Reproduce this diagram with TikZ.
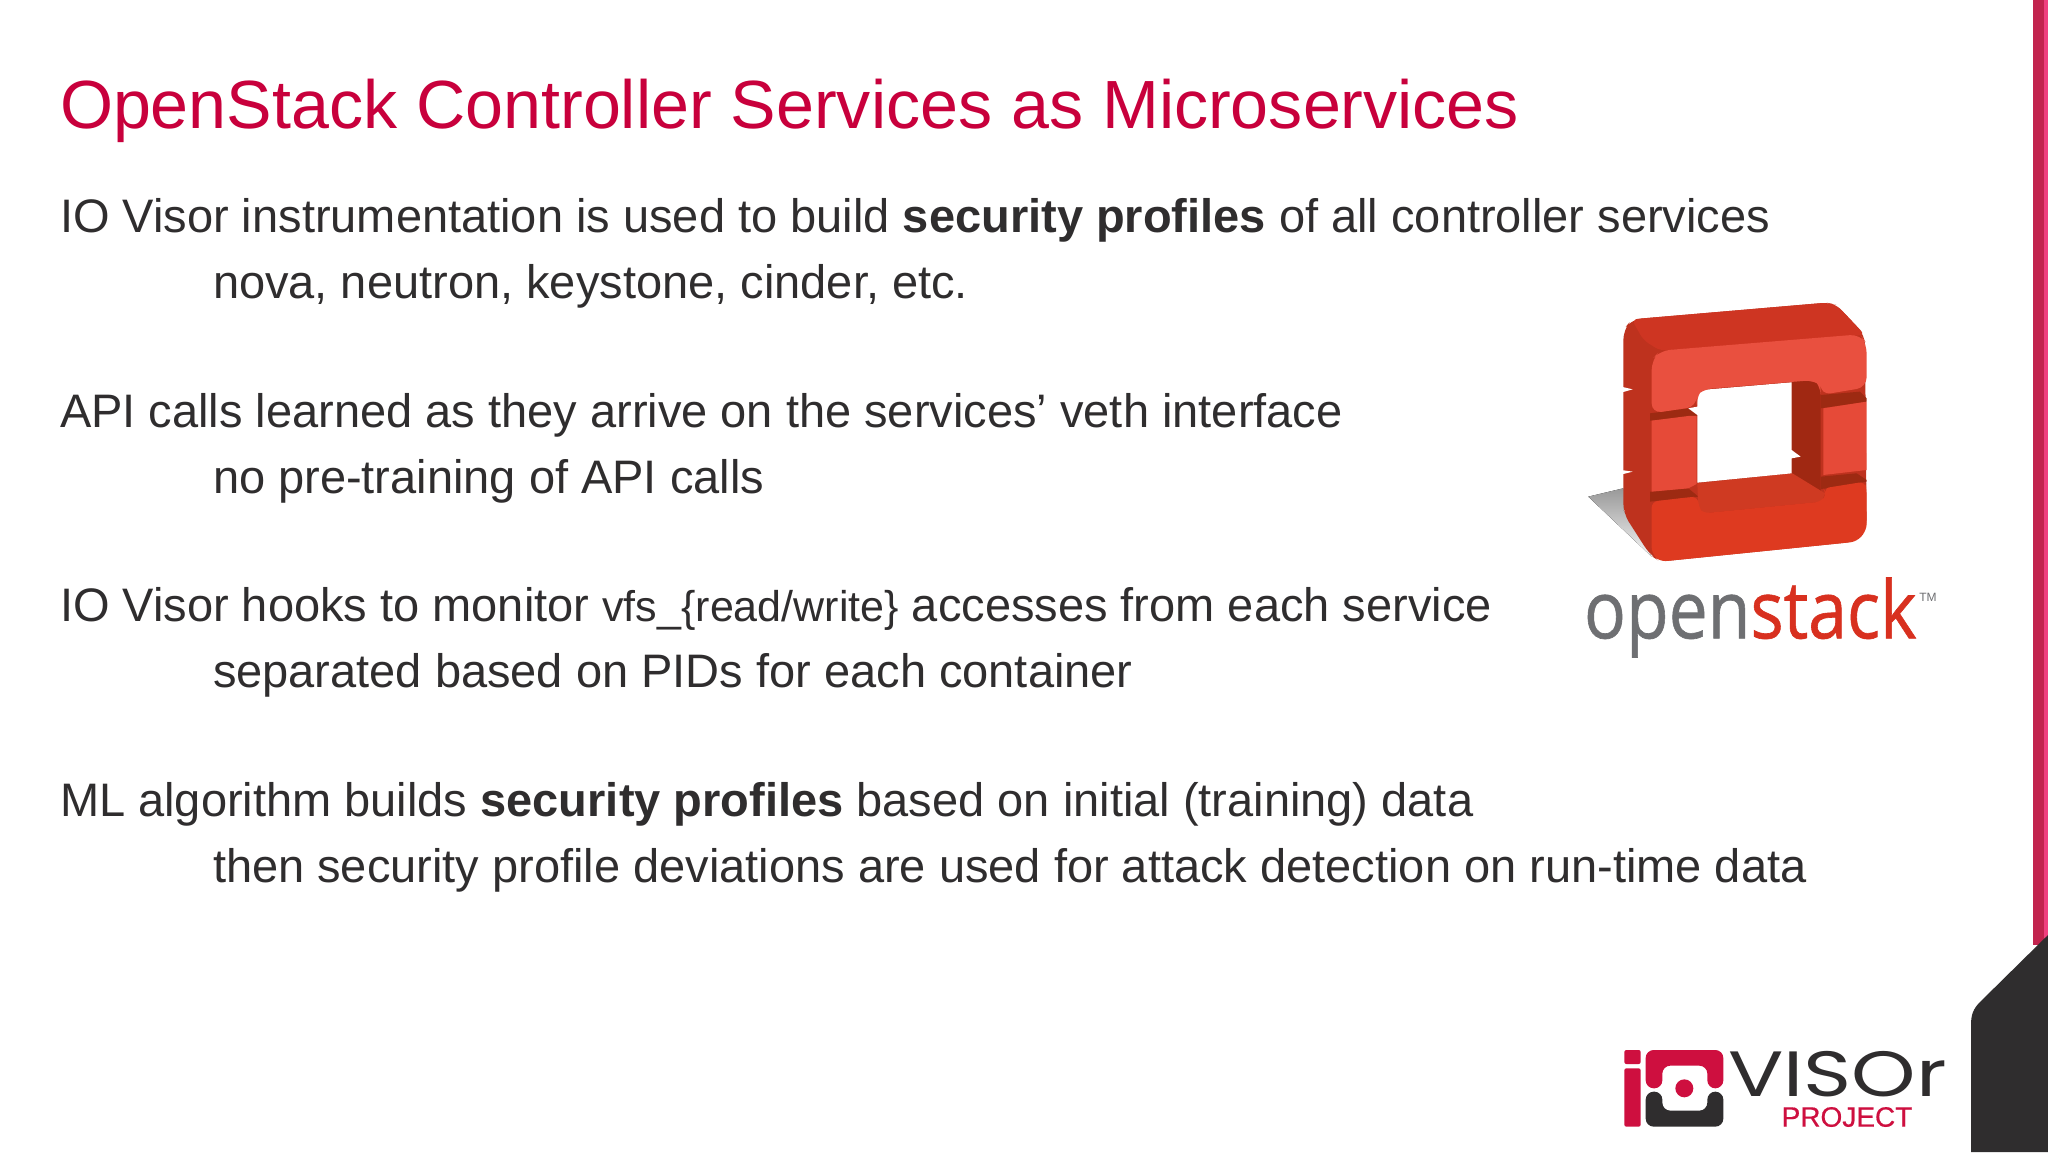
\documentclass[tikz,border=0pt]{standalone}
\usepackage{fontspec}
\setmainfont{Liberation Sans}
\newfontfamily\logofont[FakeBold=0.8]{Open Sans}
\newfontfamily\visorfont{Poppins}
\newfontfamily\projfont[FakeBold=0.5]{Liberation Sans}
\usetikzlibrary{%
  positioning
 ,calc
}
\definecolor{titlered}{HTML}{C8003C}
\definecolor{bodygray}{HTML}{2F2D2E}
\definecolor{stripered}{HTML}{C2244E}
\definecolor{stripepink}{HTML}{F0407F}
\definecolor{iored}{HTML}{CE0F3F}
\definecolor{stackred}{HTML}{D8301F}
\definecolor{stackgray}{HTML}{6E6F72}
\definecolor{cubeside}{HTML}{BE321E}
\definecolor{cubetop}{HTML}{CE3522}
\definecolor{cubein}{HTML}{A02812}
\definecolor{cubefloor}{HTML}{CF3A22}
\definecolor{cubegroove}{HTML}{9D2A12}
\definecolor{cubefront}{HTML}{E9503F}
\definecolor{cubemid}{HTML}{E64A38}
\definecolor{cubelow}{HTML}{DE3A20}
\tikzstyle{slide}=[x=1pt,y=-1pt,inner sep=0pt,outer sep=0pt]
\tikzstyle{ttl}=[anchor=base west,text=titlered,font=\fontsize{68.2}{68}\selectfont]
\tikzstyle{ln}=[anchor=base west,text=bodygray,font=\fontsize{47}{47}\selectfont]
\tikzstyle{sub}=[ln,xshift=153pt,yshift=-66pt]
\tikzstyle{logopart}=[draw=none,rounded corners=2pt]
\tikzstyle{zoomed}=[x=0.3333pt,y=-0.3333pt]
\newcommand{\smalltt}[1]{{\fontsize{43}{43}\selectfont #1}}
\begin{document}
\begin{tikzpicture}[slide]
  \useasboundingbox (0,0) rectangle (2048,1152);
  \fill[white] (0,0) rectangle (2048,1152);

  % text
  \node[ttl] (title) at (60,128) {OpenStack Controller Services as Microservices};
  \node[ln] (l1) at (60,232) {IO Visor instrumentation is used to build \textbf{security profiles} of all controller services};
  \node[sub] (l1s) at (l1.base west) {nova, neutron, keystone, cinder, etc.};
  \node[ln] (l2) at (60,427) {API calls learned as they arrive on the services’ veth interface};
  \node[sub] (l2s) at (l2.base west) {no pre-training of API calls};
  \node[ln] (l3) at (60,621) {IO Visor hooks to monitor \smalltt{vfs\_\{read/write\}} accesses from each service};
  \node[sub] (l3s) at (l3.base west) {separated based on PIDs for each container};
  \node[ln] (l4) at (60,816) {ML algorithm builds \textbf{security profiles} based on initial (training) data};
  \node[sub] (l4s) at (l4.base west) {then security profile deviations are used for attack detection on run-time data};

  % side stripe and corner
  \fill[stripered] (2033,0) rectangle (2044,945);
  \fill[stripepink] (2044,0) rectangle (2048,945);
  \fill[bodygray] (2048,935) -- (1980,1002) .. controls (1973,1009) and (1971,1015) .. (1971,1025) -- (1971,1152) -- (2048,1152) -- cycle;

  % openstack block, coordinates as in the crop at (1560,280)
  \begin{scope}[shift={(1560,280)},zoomed]
    \fill[top color=black!40,bottom color=black!4] (85,650) -- (190,625) -- (190,690) -- (275,830) -- cycle;
    \fill[cubeside,rounded corners=10pt] (190,320) -- (190,150) -- (215,118) -- (800,68) -- (830,75) -- (915,165)
      -- (920,750) -- (890,785) -- (300,845) -- (270,825) -- (190,700) -- cycle;
    \fill[cubetop,rounded corners=6pt] (215,118) -- (800,68) -- (830,75) -- (915,165) -- (300,212) -- (250,180) -- cycle;
    \fill[white] (183,320) -- (218,328) -- (190,336) -- (183,336) -- cycle;
    \fill[white] (183,570) -- (218,575) -- (190,582) -- (183,582) -- cycle;
    % inner walls
    \fill[cubegroove] (270,400) -- (385,385) -- (415,408) -- (270,422) -- cycle;
    \fill[cubegroove] (270,635) -- (385,625) -- (415,650) -- (270,665) -- cycle;
    \fill[cubegroove] (782,345) -- (900,335) -- (920,355) -- (920,365) -- (782,385) -- cycle;
    \fill[cubegroove] (782,590) -- (890,580) -- (920,600) -- (920,605) -- (782,628) -- cycle;
    \fill[cubein] (695,300) -- (765,298) -- (782,315) -- (782,640) -- (695,580) -- cycle;
    \fill[cubefloor] (412,610) -- (697,580) -- (795,640) -- (785,665) -- (430,700) -- (415,680) -- cycle;
    \fill[white] (412,345) -- (425,330) -- (695,307) -- (695,510) -- (722,530) -- (695,535) -- (695,580) -- (412,608) -- (412,405) -- (385,385) -- (412,380) -- cycle;
    % front faces
    \fill[cubefront,rounded corners=10pt] (275,400) -- (275,240) -- (300,212) -- (900,163) -- (920,190) -- (920,322)
      -- (782,345) -- (782,315) -- (765,300) -- (425,328) -- (410,345) -- (410,380) -- cycle;
    \fill[cubemid] (275,422) -- (385,408) -- (410,408) -- (410,612) -- (385,625) -- (275,635) -- cycle;
    \fill[cubemid] (790,385) -- (920,365) -- (920,570) -- (790,585) -- cycle;
    \fill[cubelow,rounded corners=6pt] (275,665) -- (385,652) -- (413,650) -- (418,688) -- (430,700) -- (785,665)
      -- (800,640) -- (790,625) -- (915,605) -- (920,630) -- (920,750) -- (890,785) -- (300,845) -- (275,820) -- cycle;
    \node[anchor=base west] (lopen) at (72,1075) {\logofont\fontsize{80}{80}\selectfont\color{stackgray}\scalebox{0.87}[1]{open}};
    \node[anchor=base west] (lstack) at (lopen.base east) {\logofont\fontsize{80}{80}\selectfont\color{stackred}\scalebox{0.87}[1]{stack}};
    \node[anchor=base west,text=stackgray,font=\fontsize{12}{12}\selectfont] (ltm) at (1078,965) {TM};
  \end{scope}

  % io visor mark, coordinates as in the crop at (1600,920)
  \begin{scope}[shift={(1600,920)},zoomed]
    \fill[iored,logopart] (73,390) rectangle (122,432);
    \fill[iored,logopart] (73,445) rectangle (122,620);
    \fill[iored,rounded corners=8pt] (137,505) -- (137,390) -- (370,390) -- (370,505) -- (322,505) -- (322,437) -- (187,437) -- (187,505) -- cycle;
    \fill[bodygray,rounded corners=8pt] (137,515) -- (187,515) -- (187,572) -- (322,572) -- (322,515) -- (370,515) -- (370,620) -- (137,620) -- cycle;
    \fill[iored] (253,505) circle[radius=27];
    \node[anchor=base west,text=bodygray,font=\visorfont\fontsize{64}{64}\selectfont] (lvisor) at (385,530) {\scalebox{1.28}[1]{VISOr}};
    \node[anchor=base west,text=iored,font=\projfont\fontsize{28}{28}\selectfont] (lproject) at (545,620) {PROJECT};
  \end{scope}
\end{tikzpicture}
\end{document}
